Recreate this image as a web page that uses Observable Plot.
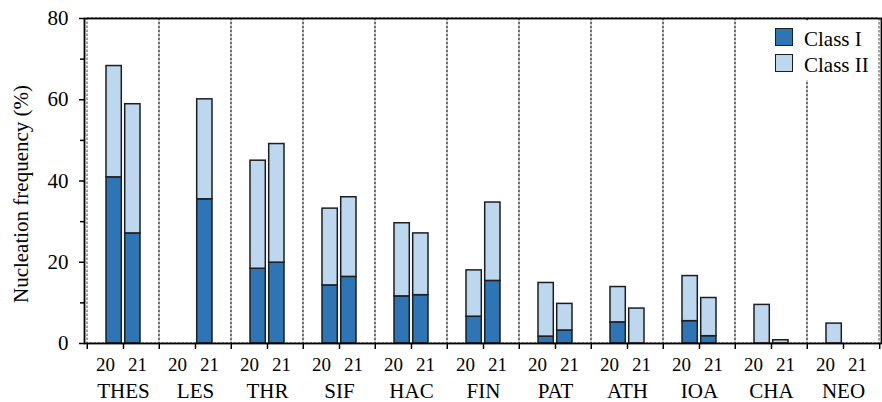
<!DOCTYPE html>
<html>
<head>
<meta charset="utf-8">
<script src="https://cdn.jsdelivr.net/npm/d3@7"></script>
<script src="https://cdn.jsdelivr.net/npm/@observablehq/plot@0.6"></script>
<style>
  body { margin: 0; background: #fff; }
  #wrap { position: relative; width: 882px; height: 402px; }
  #legend { position: absolute; left: 770px; top: 21px; width: 108px; height: 59px; background: #fff; }
  .item { position: absolute; left: 5px; display: flex; align-items: center; height: 18px; }
  .sw { width: 18px; height: 18px; box-sizing: border-box; border: 1.5px solid #1e1e1e; }
  .lab { margin-left: 11px; font-size: 21px; color: #000; position: relative; top: 2px; white-space: nowrap; }
</style>
</head>
<body>
<div id="wrap" style="font-family:'Liberation Serif',serif"></div>
<script>
const sites = ["THES","LES","THR","SIF","HAC","FIN","PAT","ATH","IOA","CHA","NEO"];
const years = ["20","21"];
const classes = ["Class I","Class II"];
const classColors = ["#2e75b6","#bdd7ee"];
const classI_20  = [40.9, 0, 18.4, 14.3, 11.6, 6.6, 1.7, 5.2, 5.5, 0, 0];
const classII_20 = [27.4, 0, 26.6, 18.9, 18.0, 11.4, 13.2, 8.7, 11.1, 9.5, 4.9];
const classI_21  = [27.1, 35.5, 19.9, 16.4, 11.9, 15.4, 3.2, 0, 1.8, 0, 0];
const classII_21 = [31.8, 24.6, 29.2, 19.6, 15.2, 19.3, 6.55, 8.6, 9.4, 0.8, 0];
const yTicks = [0, 20, 40, 60, 80];
const yMinorTicks = [10, 30, 50, 70];
const yLabel = "Nucleation frequency (%)";

function rowsFor(ci, cii) {
  const out = [];
  sites.forEach((s, i) => {
    if (ci[i] > 0) out.push({site: s, cls: classes[0], value: ci[i]});
    if (cii[i] > 0) out.push({site: s, cls: classes[1], value: cii[i]});
  });
  return out;
}
const rows20 = rowsFor(classI_20, classII_20);
const rows21 = rowsFor(classI_21, classII_21);

const W = 882, H = 402, ML = 84, MR = 1, MT = 18, MB = 59;
const bw = (W - ML - MR) / sites.length;
const font = "'Liberation Serif', serif";

const chart = Plot.plot({
  width: W, height: H,
  marginLeft: ML, marginRight: MR, marginTop: MT, marginBottom: MB,
  style: {fontFamily: font, fontSize: "21px", color: "#000", background: "#fff", overflow: "visible"},
  x: {type: "band", domain: sites, padding: 0},
  y: {domain: [0, 80]},
  color: {domain: classes, range: classColors},
  marks: [
    Plot.barY(sites, {x: d => d, y1: 0, y2: 80, fill: "none", stroke: "#333", strokeWidth: 0.9, strokeDasharray: "2.5,1.5"}),
    Plot.barY(rows20, {x: "site", y: "value", fill: "cls", stroke: "#1e1e1e", strokeWidth: 1.5, insetLeft: 19, insetRight: 37.7}),
    Plot.barY(rows21, {x: "site", y: "value", fill: "cls", stroke: "#1e1e1e", strokeWidth: 1.5, insetLeft: 37.7, insetRight: 19}),
    Plot.frame({stroke: "#000", strokeWidth: 1.8}),
    Plot.axisY({ticks: yTicks, tickSize: 5, tickPadding: 11, fontSize: 21, fontFamily: font, label: null, strokeWidth: 1.5}),
    Plot.axisY({ticks: yMinorTicks, tickSize: 4, tickFormat: () => "", label: null, strokeWidth: 1.5}),
    Plot.axisX({tickSize: 6, tickPadding: 34, fontSize: 21, fontFamily: font, label: null, strokeWidth: 1.5}),
    Plot.axisX({ticks: sites, tickSize: 6, tickFormat: () => "", label: null, dx: -bw / 2, strokeWidth: 1.5}),
    Plot.axisX({ticks: [sites[sites.length - 1]], tickSize: 6, tickFormat: () => "", label: null, dx: bw / 2, strokeWidth: 1.5}),
    Plot.text(sites, {x: d => d, frameAnchor: "bottom", text: () => years[0], dy: 27, dx: -8.5, textAnchor: "end", lineAnchor: "bottom", fontSize: 19, fontFamily: font}),
    Plot.text(sites, {x: d => d, frameAnchor: "bottom", text: () => years[1], dy: 27, dx: 4.5, textAnchor: "start", lineAnchor: "bottom", fontSize: 19, fontFamily: font}),
    Plot.text([yLabel], {frameAnchor: "left", text: d => d, rotate: -90, dx: -56.5, dy: 13, lineAnchor: "bottom", textAnchor: "middle", fontSize: 21, fontFamily: font})
  ]
});

const wrap = document.getElementById("wrap");
wrap.appendChild(chart);
const legend = document.createElement("div");
legend.id = "legend";
classes.forEach((c, i) => {
  const item = document.createElement("div");
  item.className = "item";
  item.style.top = (7 + i * 26) + "px";
  const sw = document.createElement("div");
  sw.className = "sw";
  sw.style.background = classColors[i];
  const lab = document.createElement("span");
  lab.className = "lab";
  lab.style.fontFamily = font;
  lab.textContent = c;
  item.appendChild(sw);
  item.appendChild(lab);
  legend.appendChild(item);
});
wrap.appendChild(legend);
</script>
</body>
</html>
